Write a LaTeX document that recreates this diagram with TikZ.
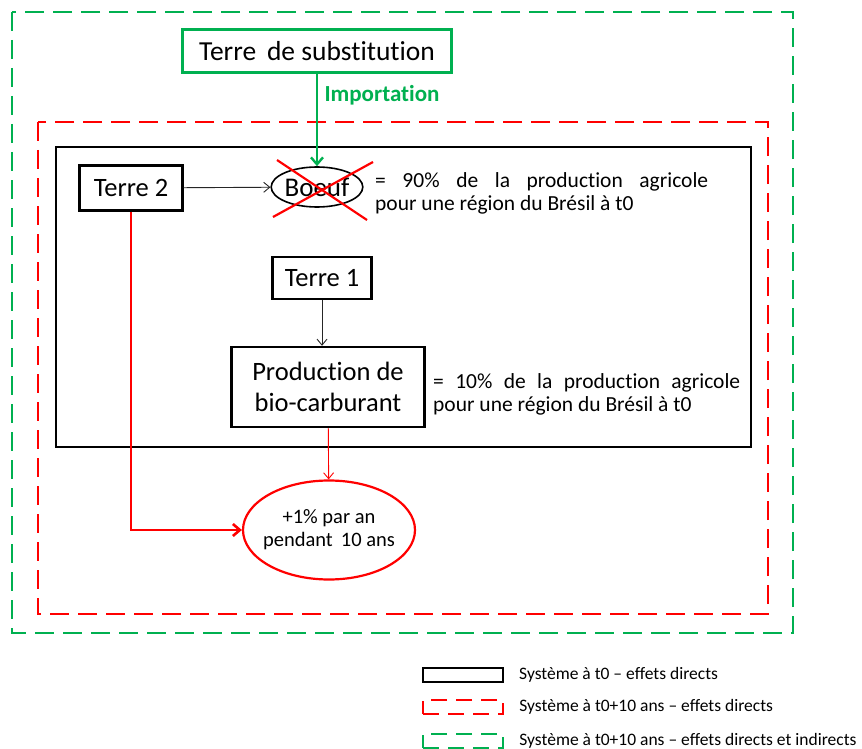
\documentclass[tikz,border=0pt]{standalone}
\usepackage{fontspec}
\setmainfont{Carlito}[Ligatures=NoCommon]
\usetikzlibrary{arrows.meta, shapes.geometric, positioning}

\definecolor{vert}{RGB}{0,176,80}
\definecolor{rouge}{RGB}{255,0,0}

\begin{document}
\begin{tikzpicture}[
      x=1pt, y=-1pt,
      box/.style   = {draw, line width=2.4pt, inner sep=0pt, align=center,
                      font=\fontsize{26.5}{31}\selectfont},
      gbox/.style  = {draw=vert, line width=2.4pt, inner sep=0pt, align=center,
                      font=\fontsize{27.5}{32}\selectfont},
      note/.style  = {inner sep=0pt, text width=#1, align=justify,
                      font=\fontsize{21.5}{23.5}\selectfont},
      arr/.style   = {-{Straight Barb[length=6pt, width=10pt]}, gray!30!black, line width=0.9pt},
      garr/.style  = {-{Straight Barb[length=7pt, width=12pt]}, vert, line width=2.4pt},
      rarr/.style  = {-{Straight Barb[length=7pt, width=12pt]}, rouge, line width=2.6pt},
      tarr/.style  = {-{Straight Barb[length=6pt, width=10pt]}, rouge, line width=0.9pt},
      frame/.style = {line width=2.6pt, dash pattern=on 19pt off 9pt},
      keytxt/.style= {anchor=west, inner sep=0pt, font=\fontsize{17.5}{20}\selectfont}
    ]
    \useasboundingbox (0,0) rectangle (862,749);

    % ---- system frames ----
    \draw[frame, vert]  (12,12)  rectangle (793,633);
    \draw[frame, rouge] (38,122) rectangle (768,614);
    \draw[line width=2.2pt] (56,147) rectangle (751,447);

    % ---- nodes ----
    \node[gbox, minimum width=269pt, minimum height=43pt] (subst) at (317,51) {Terre\, de substitution};
    \node[draw, ellipse, line width=1.6pt, minimum width=90pt, minimum height=40pt,
          inner sep=0pt, font=\fontsize{27}{30}\selectfont] (boeuf) at (317,187) {Boeuf};
    \node[box, minimum width=103pt, minimum height=45pt] (t2) at (131,188) {Terre 2};
    \node[box, minimum width=99pt, minimum height=42pt] (t1) at (322,278) {Terre 1};
    \node[box, minimum width=193pt, minimum height=80pt] (prod) at (328,387)
         {Production de\\bio-carburant};
    \node[draw=rouge, ellipse, line width=2.2pt, minimum width=172pt, minimum height=99pt,
          inner xsep=-10pt, inner ysep=0pt, align=center,
          font=\fontsize{20.5}{23}\selectfont] (gain) at (329,530)
         {+1\% par an\\pendant\, 10 ans};

    % ---- notes ----
    \node[note=333pt, anchor=north west] (n90) at (375,172)
         {= 90\% de la production agricole\linebreak pour une région du Brésil à t0};
    \node[note=307pt, anchor=north west] (n10) at (433,373)
         {= 10\% de la production agricole\linebreak pour une région du Brésil à t0};

    % ---- boeuf crossed out ----
    \draw[rouge, line width=2.2pt] (273,217) -- (373,162);
    \draw[rouge, line width=2.2pt] (277,160) -- (367,220);

    % ---- arrows ----
    \draw[garr] (subst) -- (boeuf)
        node[pos=0.23, right=3pt, vert, font=\fontsize{23}{26}\selectfont\bfseries] {Importation};
    \draw[arr]  (t2) -- (boeuf);
    \draw[arr]  (t1.south) -- (t1.south |- prod.north);
    \draw[tarr] (prod) -- (gain);
    \draw[rarr] (t2.south) |- (gain.west);

    % ---- legend ----
    \node[draw, line width=2pt, minimum width=80pt, minimum height=14pt, inner sep=0pt] (keyB) at (463,675) {};
    \node[draw=rouge, line width=2.4pt, dash pattern=on 16pt off 9pt, minimum width=80pt,
          minimum height=14pt, inner sep=0pt] (keyR) at (463,707) {};
    \node[draw=vert, line width=2.4pt, dash pattern=on 16pt off 9pt, minimum width=80pt,
          minimum height=14pt, inner sep=0pt] (keyG) at (463,741) {};
    \node[keytxt, right=15pt of keyB] {Système à t0 -- effets directs};
    \node[keytxt, right=15pt of keyR] {Système à t0+10 ans -- effets directs};
    \node[keytxt, right=15pt of keyG] {Système à t0+10 ans -- effets directs et indirects};

  \end{tikzpicture}
\end{document}
